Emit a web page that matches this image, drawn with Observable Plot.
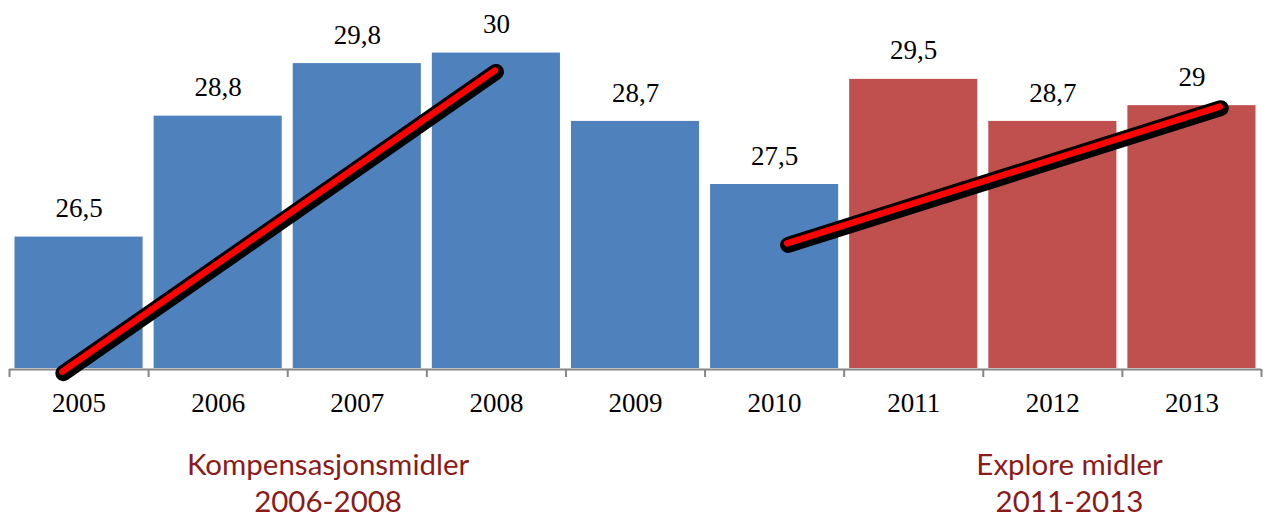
<!DOCTYPE html>
<html>
<head>
<meta charset="utf-8">
<script src="https://cdn.jsdelivr.net/npm/d3@7"></script>
<script src="https://cdn.jsdelivr.net/npm/@observablehq/plot@0.6"></script>
<style>
  html, body { margin: 0; padding: 0; background: #ffffff; }
  #chart { width: 1270px; height: 517px; overflow: hidden; }
</style>
</head>
<body>
<div id="chart"></div>
<script>
// ---- Data ----
const years = [2005, 2006, 2007, 2008, 2009, 2010, 2011, 2012, 2013];
const values = [26.5, 28.8, 29.8, 30, 28.7, 27.5, 29.5, 28.7, 29];
const periods = ["før", "før", "før", "før", "før", "før", "Explore", "Explore", "Explore"];
const periodColors = { "før": "#4F81BD", "Explore": "#C0504D" };

// Trend lines (x in years, y in values)
const trend1Years = [2004.88, 2007.99];
const trend1Values = [23.94, 29.67];
const trend2Years = [2010.09, 2013.2];
const trend2Values = [26.38, 28.98];

// Annotations below the axis
const noteTexts = ["Kompensasjonsmidler\n2006-2008", "Explore midler\n2011-2013"];
const noteYears = [2006.79, 2012.12];

// ---- Derived tables ----
const bars = years.map((y, i) => ({ year: y, value: values[i], period: periods[i] }));
const trends = [
  ...trend1Years.map((y, i) => ({ id: 1, year: y, value: trend1Values[i] })),
  ...trend2Years.map((y, i) => ({ id: 2, year: y, value: trend2Values[i] }))
];
const notes = noteTexts.map((t, i) => ({ text: t, year: noteYears[i] }));
const boundaries = [...years.map(y => y - 0.5), years[years.length - 1] + 0.5];
const fmt = v => String(v).replace(".", ",");

const serif = "'Liberation Serif', 'DejaVu Serif', serif";

const chart = Plot.plot({
  width: 1270,
  height: 517,
  marginTop: 0,
  marginBottom: 149,
  marginLeft: 9,
  marginRight: 9,
  style: { background: "#ffffff", fontFamily: serif, overflow: "visible" },
  x: { type: "linear", domain: [2004.5, 2013.5], axis: null },
  y: { domain: [24, 31], axis: null },
  color: { domain: Object.keys(periodColors), range: Object.values(periodColors) },
  marks: [
    Plot.rectY(bars, {
      x1: d => d.year - 0.5, x2: d => d.year + 0.5,
      y1: 24, y2: "value",
      fill: "period", insetLeft: 5.5, insetRight: 5.5
    }),
    Plot.text(bars, {
      x: "year", y: "value", text: d => fmt(d.value),
      dy: -28.5, fontSize: 27, fill: "#000", fontFamily: serif
    }),
    Plot.ruleY([24], { stroke: "#868686", strokeWidth: 2, dy: 1 }),
    Plot.axisX({
      ticks: boundaries, tickSize: 8, tickFormat: () => "", label: null,
      stroke: "#868686", strokeWidth: 2, strokeOpacity: 1, dy: 1
    }),
    Plot.axisX({
      ticks: years, tickSize: 0, tickPadding: 24, tickFormat: d => String(d), label: null,
      fontSize: 27, fontFamily: serif, fill: "#000"
    }),
    Plot.line(trends, {
      x: "year", y: "value", z: "id",
      stroke: "#000000", strokeWidth: 16, strokeLinecap: "round", curve: "linear",
      dx: 1, dy: 1.5
    }),
    Plot.line(trends, {
      x: "year", y: "value", z: "id",
      stroke: "#FF0000", strokeWidth: 6.5, strokeLinecap: "round", curve: "linear"
    }),
    Plot.text(notes, {
      x: "year", text: "text", frameAnchor: "bottom", lineAnchor: "top",
      dy: 81, lineHeight: 1.24, fontSize: 29.5,
      fontFamily: "Lato, 'Open Sans', sans-serif", fill: "#8B1A1A"
    })
  ]
});

document.getElementById("chart").appendChild(chart);
</script>
</body>
</html>
